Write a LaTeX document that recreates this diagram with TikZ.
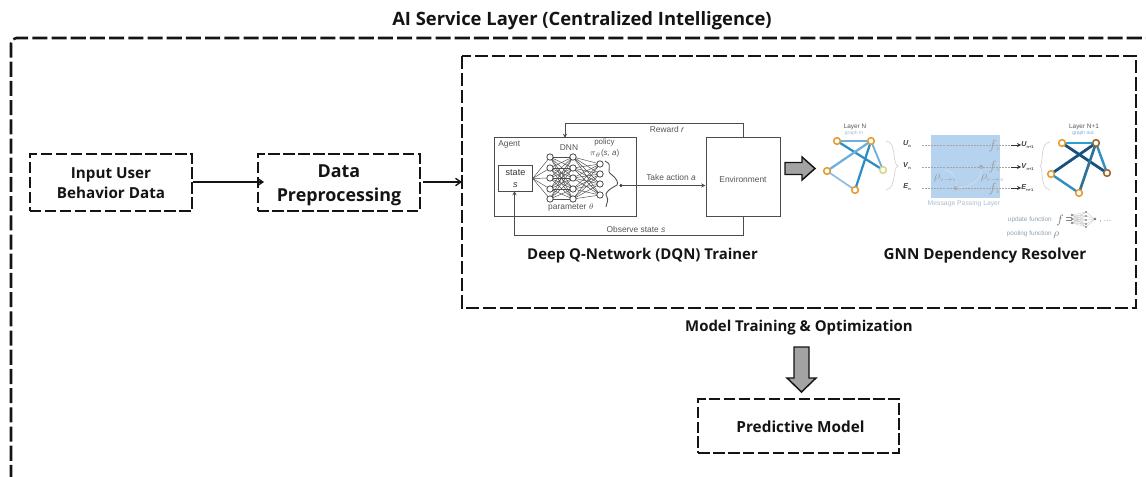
\documentclass[tikz,border=0pt]{standalone}
\usepackage{fontspec}
\setmainfont{Open Sans}
\newfontfamily\smallf{Liberation Sans}
\usetikzlibrary{arrows.meta,shapes.arrows,decorations.pathmorphing,decorations.pathreplacing}
\definecolor{ink}{HTML}{141414}
\definecolor{bigarrow}{HTML}{A3A3A3}
\definecolor{mpblue}{HTML}{B5D3EF}
\definecolor{orangeN}{HTML}{E39A33}
\definecolor{edgeA}{HTML}{6FB0DA}
\definecolor{edgeB}{HTML}{2E8FC4}
\definecolor{edgeC}{HTML}{1C6E9E}
\definecolor{edgeD}{HTML}{17527F}
\definecolor{greytxt}{HTML}{555555}
\definecolor{lighttxt}{HTML}{A9BDD0}
\newcommand{\tinysub}[1]{\raisebox{-1.2pt}{\smallf\fontsize{3}{3}\selectfont #1}}
\tikzset{
  x=0.75pt,y=-0.75pt,
  outerdash/.style={draw=ink,line width=1.9pt,dash pattern=on 11.3pt off 3.1pt,rounded corners=4pt},
  innerdash/.style={draw=ink,line width=1.5pt,dash pattern=on 8.6pt off 2.6pt},
  boxtext/.style={font=\bfseries,text=ink,align=center,inner sep=0pt},
  thinarrow/.style={draw=ink,line width=1pt,-{Straight Barb[length=4pt,width=5.5pt]}},
  bigblock/.style={draw=ink,line width=1.1pt,fill=bigarrow,line join=miter},
  dqnline/.style={draw=black!70,line width=0.65pt},
  dqnarrow/.style={dqnline,-{Stealth[length=3.2pt,width=3pt]}},
  dqnbox/.style={draw=black!70,line width=0.75pt,fill=white},
  dqntext/.style={font=\smallf\fontsize{6.3}{7.5}\selectfont,text=greytxt,inner sep=0pt,align=center},
  nn/.style={circle,draw=black!75,line width=0.55pt,fill=white,minimum size=4.8pt,inner sep=0pt},
  nnedge/.style={draw=black!70,line width=0.35pt},
  gnode/.style={circle,draw=orangeN,line width=1.15pt,fill=white,minimum size=5pt,inner sep=0pt},
  gtext/.style={font=\smallf\fontsize{4.8}{6}\selectfont,text=greytxt,inner sep=0pt},
  gsym/.style={font=\smallf\bfseries\fontsize{5.4}{6}\selectfont,text=black!75,inner sep=0pt},
  gline/.style={draw=black!35,line width=0.4pt,dash pattern=on 1.5pt off 0.8pt},
  brace/.style={draw=black!18,line width=0.5pt},
  faintsym/.style={inner sep=0pt,text=black!38},
}
\begin{document}
\begin{tikzpicture}
\useasboundingbox (0,0) rectangle (1146,477);
% containers
\node[boxtext,font=\bfseries\fontsize{13.8}{16}\selectfont] (title) at (582,21) {AI Service Layer (Centralized Intelligence)};
\draw[outerdash] (11,480) -- (11,38) -- (1150,38);
\draw[innerdash,line width=1.6pt,dash pattern=on 10pt off 2.8pt] (462,56) rectangle (1136,308);
\coordinate (innerwest) at (462,182);
% pipeline boxes
\node[innerdash,minimum width=121.5pt,minimum height=42.5pt,inner sep=0pt] (input) at (111,182.5) {};
\node[boxtext,font=\bfseries\fontsize{11.4}{15.2}\selectfont] (inputt) at (111,183.5) {Input User\\Behavior Data};
\node[innerdash,minimum width=121.5pt,minimum height=42.5pt,inner sep=0pt] (prep) at (338.5,182.5) {};
\node[boxtext,font=\bfseries\fontsize{13.4}{18}\selectfont] (prept) at (339,185) {Data\\Preprocessing};
\node[innerdash,minimum width=150.5pt,minimum height=40.5pt,inner sep=0pt] (pred) at (798.5,426) {};
\node[boxtext,font=\bfseries\fontsize{11.5}{13}\selectfont] (predt) at (800.5,427) {Predictive Model};
\coordinate (prepin) at (264,182);
\coordinate (prepout) at (423,182);
\draw[thinarrow] (input.east |- 0,182) -- (prepin);
\draw[thinarrow] (prepout) -- (innerwest);
% labels
\node[boxtext,font=\bfseries\fontsize{11.2}{13}\selectfont] (dqnlabel) at (642.5,256) {Deep Q-Network (DQN) Trainer};
\node[boxtext,font=\bfseries\fontsize{11.4}{13}\selectfont] (gnnlabel) at (985,256) {GNN Dependency Resolver};
\node[boxtext,font=\bfseries\fontsize{11.2}{13}\selectfont] (mtlabel) at (799,328) {Model Training \& Optimization};
% block arrows
\draw[bigblock] (785,162.5) -- (802,162.5) -- (802,157) -- (815,168.5) -- (802,180) -- (802,174.5) -- (785,174.5) -- cycle;
\draw[bigblock] (794,347) -- (809,347) -- (809,378) -- (816,378) -- (801.5,392) -- (787,378) -- (794,378) -- cycle;
% --- DQN ---
\node[dqnbox,minimum width=106.5pt,minimum height=59.25pt,inner sep=0pt] (agent) at (565,177.5) {};
\node[dqnbox,minimum width=55.5pt,minimum height=59.25pt,inner sep=0pt] (env) at (743,177.5) {};
\node[dqntext] at (743,179) {Environment};
\node[dqntext,anchor=west] (agentt) at (498,144) {Agent};
\node[dqnbox,minimum width=25pt,minimum height=19pt,inner sep=0pt] (state) at (515.5,178.5) {};
\node[dqntext,font=\smallf\fontsize{6.8}{9.5}\selectfont,text=black!80] at (515.5,178.5) {state\\\textit{s}};
\node[dqntext] at (569,148) {DNN};
\node[dqntext,font=\smallf\fontsize{6}{8.5}\selectfont] at (604.5,148) {policy\\$\pi_\theta$(\textit{s, a})};
\node[dqntext] at (571,208) {parameter $\theta$};
\foreach \i/\y in {1/157,2/168,3/178,4/189,5/199}{
  \coordinate (a\i) at (550,\y);
  \coordinate (b\i) at (573,\y);
}
\foreach \i/\y in {1/164,2/174,3/184,4/195}{\coordinate (c\i) at (600,\y);}
\foreach \i in {1,...,5}{
  \draw[nnedge] (state.east) -- (a\i);
  \foreach \j in {1,...,5}{\draw[nnedge] (a\i) -- (b\j);}
  \foreach \j in {1,...,4}{\draw[nnedge] (b\i) -- (c\j);}
}
\foreach \i in {1,...,5}{\node[nn] at (a\i) {}; \node[nn] at (b\i) {};}
\foreach \i in {1,...,4}{\node[nn] at (c\i) {};}
\draw[dqnline] (605,161) .. controls (615,166) and (604,170) .. (612,175) .. controls (618,180) and (618,183) .. (617,185) .. controls (612,188) and (603,192) .. (607,197) .. controls (609,201) and (606,204) .. (606,207);
\coordinate (actstart) at (621,185.5);
\fill[black!85] (actstart) circle (1.2pt);
\draw[dqnarrow] (actstart) -- (env.west |- actstart);
\node[dqntext] at (671,177) {Take action \textit{a}};
\draw[dqnarrow] (743,138.5) |- (565,123.5) -- (565,138);
\draw[dqnarrow] (743,217) |- (514.5,235) -- (514.5,191);
\node[dqntext] at (667,130) {Reward \textit{r}};
\node[dqntext] at (636,229) {Observe state \textit{s}};
% --- GNN ---
\node[fill=mpblue,minimum width=52pt,minimum height=47pt,inner sep=0pt] (mp) at (965.5,166.5) {};
\node[gtext,text=lighttxt,font=\smallf\fontsize{5.1}{6}\selectfont] at (964,203.5) {Message Passing Layer};
% left graph
\coordinate (l1) at (837,141); \coordinate (l2) at (871,141); \coordinate (l3) at (883,170); \coordinate (l4) at (827,171); \coordinate (l5) at (855,190);
\draw[edgeA,line width=1.7pt] (l1) -- (l2);
\draw[edgeB,line width=1.7pt] (l1) -- (l3);
\draw[edgeA,line width=1.4pt] (l2) -- (l3);
\draw[edgeA,line width=1.7pt] (l2) -- (l4);
\draw[edgeB,line width=1.7pt] (l2) -- (l5);
\draw[edgeA!80,line width=1.3pt] (l4) -- (l5);
\node[gnode] at (l1) {}; \node[gnode] at (l2) {}; \node[gnode,draw=olive!35] at (l3) {}; \node[gnode] at (l4) {}; \node[gnode] at (l5) {};
\node[gtext] at (855,127) {Layer N};
\node[gtext,text=lighttxt,font=\smallf\fontsize{3.8}{5}\selectfont] at (854,133.5) {graph in};
% right graph
\coordinate (r1) at (1062,143); \coordinate (r2) at (1096,143); \coordinate (r3) at (1107,173); \coordinate (r4) at (1051,174); \coordinate (r5) at (1079,193);
\draw[edgeB!85!cyan,line width=2pt] (r1) -- (r2);
\draw[edgeD,line width=2.1pt] (r1) -- (r3);
\draw[edgeB,line width=1.8pt] (r2) -- (r3);
\draw[edgeD,line width=2.1pt] (r2) -- (r4);
\draw[edgeC!80!gray,line width=2pt] (r2) -- (r5);
\draw[edgeB,line width=1.8pt] (r4) -- (r5);
\node[gnode] at (r1) {}; \node[gnode,draw=brown!80!black] at (r2) {}; \node[gnode,draw=brown!80!black] at (r3) {}; \node[gnode] at (r4) {}; \node[gnode] at (r5) {};
\node[gtext] at (1084,127) {Layer N+1};
\node[gtext,text=edgeA,font=\smallf\fontsize{3.8}{5}\selectfont] at (1083,133.5) {graph out};
% braces
\draw[brace] (886,141) .. controls (897,142) and (892,164) .. (898,166) .. controls (892,168) and (897,188) .. (886,190);
\draw[brace] (1050,142) .. controls (1039,143) and (1044,164) .. (1040,166) .. controls (1044,168) and (1039,188) .. (1050,190);
% message lines
\foreach \n/\y/\lab in {u/145/U,v/167/V,e/188/E}{
  \node[gsym] (s\n) at (907,\y-1) {\textit{\lab}\tinysub{n}};
  \node[gsym,anchor=west] (t\n) at (1021,\y) {\textit{\lab}\tinysub{n+1}};
  \draw[gline] (922,\y) -- (1011,\y);
  \draw[black!80,line width=0.5pt,-{Stealth[length=3pt,width=3pt]}] (1011,\y) -- (t\n.west);
}
\fill[black!35] (981,167) circle (1.5pt);
\fill[black!35] (956,188) circle (1.5pt);
\draw[black!12,line width=0.4pt] (945,170) .. controls (955,172) and (957,180) .. (956,188);
\draw[black!12,line width=0.4pt] (981,167) .. controls (982,180) and (972,187) .. (956,188);
\node[faintsym] at (994,146) {\fontsize{10}{10}\selectfont$f$\tinysub{U}};
\node[faintsym] at (994,167) {\fontsize{10}{10}\selectfont$f$\tinysub{V}};
\node[faintsym] at (994,189) {\fontsize{10}{10}\selectfont$f$\tinysub{E}};
\node[faintsym] at (945,178) {\fontsize{9.5}{10}\selectfont$\rho$\tinysub{V\,$\to$\,E}};
\node[faintsym] at (992,178) {\fontsize{9.5}{10}\selectfont$\rho$\tinysub{E\,$\to$\,V}};
% legend
\node[gtext,text=lighttxt!85!black,anchor=east] (upd) at (1052,220) {update function};
\node[faintsym,text=black!55,anchor=west] (feq) at (1056,221) {\fontsize{9}{10}\selectfont$f$\,\smallf=};
\foreach \y in {215,219,223}{\foreach \z in {212,216,220,224,227}{\draw[black!22,line width=0.25pt] (1072,\y) -- (1086,\z);}}
\foreach \z in {212,216,220,224,227}{\draw[black!22,line width=0.25pt] (1086,\z) -- (1095,219);}
\foreach \y in {215,219,223}{\fill[black!45] (1072,\y) circle (1.1pt);}
\foreach \y in {212,216,220,224,227}{\fill[black!45] (1086,\y) circle (0.9pt);}
\fill[black!55] (1095,219) circle (1.1pt);
\node[gtext,text=black!45,font=\smallf\fontsize{6}{7}\selectfont,anchor=west] (dots) at (1099,222) {, \dots};
\node[gtext,text=lighttxt!85!black,anchor=east] (pool) at (1052,234) {pooling function};
\node[faintsym,text=black!45,anchor=west] (rho) at (1053,235) {\fontsize{8}{10}\selectfont$\rho$};
\end{tikzpicture}
\end{document}
